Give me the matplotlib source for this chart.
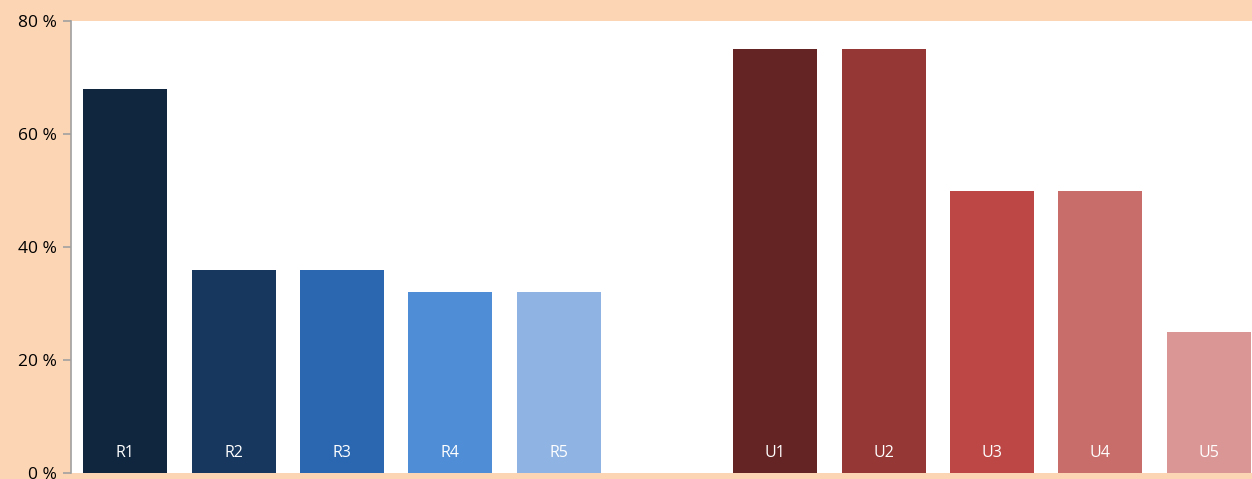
import numpy as np
import matplotlib.pyplot as plt

labels = ['R1', 'R2', 'R3', 'R4', 'R5', '', 'U1', 'U2', 'U3', 'U4', 'U5']
values = [68, 36, 36, 32, 32, 0, 75, 75, 50, 50, 25]
colors = ['#10263F', '#17375E', '#2B66B0', '#4F8ED6', '#8FB4E3', 'none',
          '#632423', '#953735', '#BC4745', '#C96D6A', '#DA9694']
yticks = [0, 20, 40, 60, 80]

plt.rcParams['font.family'] = ['Open Sans', 'DejaVu Sans']

fig = plt.figure(figsize=(12.52, 4.79), dpi=100, facecolor='#FCD5B5')
ax = fig.add_axes([71 / 1252, 1 - 473 / 479, (1252 - 71) / 1252, (473 - 21) / 479])
ax.set_facecolor('white')

x = np.arange(len(labels))
ax.bar(x, values, width=0.775, color=colors)
for xi, lab in zip(x, labels):
    if lab:
        ax.text(xi, 3.6, lab, color='white', ha='center', va='center', fontsize=11.5)

ax.set_xlim(-0.5, 10.4)
ax.set_ylim(0, 80)
ax.set_yticks(yticks)
ax.set_yticklabels([f'{v} %' for v in yticks], fontsize=12.5)
ax.set_xticks([])
for s in ['top', 'right', 'bottom']:
    ax.spines[s].set_visible(False)
ax.spines['left'].set_color('#A0A0A0')
ax.spines['left'].set_linewidth(1.2)
ax.tick_params(axis='y', color='#A0A0A0', length=6, width=1.2, pad=4)

fig.savefig('out.png', dpi=100, facecolor=fig.get_facecolor())
